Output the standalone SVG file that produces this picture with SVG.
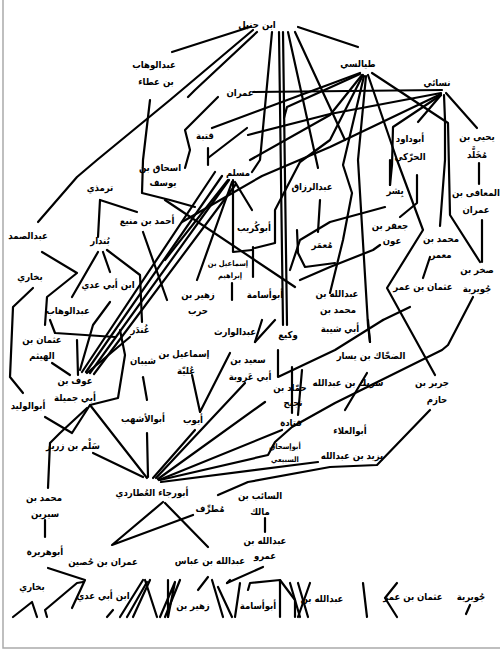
<svg xmlns="http://www.w3.org/2000/svg" width="500" height="652" viewBox="0 0 500 652">
<style>
text{font-family:"DejaVu Sans Condensed","DejaVu Sans",sans-serif;font-weight:bold;font-size:9.5px;fill:#000;text-anchor:middle}
.s{font-size:7.5px}
#connectors polyline{fill:none;stroke:#000;stroke-width:2.2;stroke-linecap:round;stroke-linejoin:round}
</style>
<rect width="500" height="652" fill="#fff"/>
<polyline points="3,0 3,648 500,648" fill="none" stroke="#aaa" stroke-width="1.5"/>
<g id="connectors">
<!-- Ibn Hanbal -->
<polyline points="250,27 172,52"/>
<polyline points="253,30 170,100 97,160 77,177 38,222"/>
<polyline points="257,32 195,90 188,97"/>
<polyline points="218,97 185,130 190,150 185,168"/>
<polyline points="272,32 260,160 252,172"/>
<polyline points="279,32 283,325"/>
<polyline points="283,32 287,325"/>
<polyline points="288,32 318,168"/>
<polyline points="295,32 345,140"/>
<polyline points="298,27 358,47"/>
<!-- Tayalisi -->
<polyline points="360,73 212,128"/>
<polyline points="360,74 287,107 284,118"/>
<polyline points="362,75 330,115 250,160"/>
<polyline points="363,75 330,140 300,162 275,210 275,243 255,248"/>
<polyline points="364,76 343,165 352,193 343,240 330,293"/>
<polyline points="366,76 358,160 368,325 370,342"/>
<polyline points="368,75 397,160 423,230 387,288 435,375"/>
<polyline points="372,73 448,123 450,215 480,262"/>
<!-- Nasai -->
<polyline points="442,90 253,92"/>
<polyline points="441,93 330,114 248,135"/>
<polyline points="441,94 330,147 262,176 182,222"/>
<polyline points="441,95 418,122"/>
<polyline points="441,95 393,127 392,165 390,185"/>
<polyline points="444,95 445,120 445,160 440,226"/>
<polyline points="446,93 477,128"/>
<polyline points="479,163 479,184"/>
<!-- upper middle -->
<polyline points="150,100 143,160 142,193 170,200 195,207"/>
<polyline points="165,200 295,287"/>
<polyline points="208,148 208,165"/>
<polyline points="247,128 208,158"/>
<polyline points="233,180 233,252 252,250"/>
<polyline points="235,182 252,210"/>
<polyline points="253,247 253,277"/>
<polyline points="232,283 232,300"/>
<polyline points="232,182 197,280"/>
<polyline points="228,180 165,260"/>
<polyline points="215,172 82,372"/>
<polyline points="222,176 86,372"/>
<polyline points="229,180 90,373"/>
<polyline points="236,184 94,374"/>
<polyline points="320,200 318,232"/>
<polyline points="390,160 390,185"/>
<polyline points="417,175 417,203 400,217"/>
<polyline points="385,207 330,222 300,240 290,270"/>
<polyline points="380,245 373,250 330,267 300,280"/>
<polyline points="297,230 298,253 305,267 335,263"/>
<polyline points="482,220 482,262"/>
<polyline points="430,257 423,278"/>
<!-- left middle -->
<polyline points="100,200 98,237"/>
<polyline points="100,200 137,212"/>
<polyline points="98,252 72,297"/>
<polyline points="103,252 110,272"/>
<polyline points="107,250 140,275 142,322"/>
<polyline points="143,232 167,300"/>
<polyline points="42,252 77,273 47,297 45,325"/>
<polyline points="33,288 13,307 10,377 23,393"/>
<polyline points="50,320 55,333 115,337"/>
<polyline points="110,302 93,325 80,370"/>
<polyline points="52,363 70,375"/>
<polyline points="77,340 78,375"/>
<polyline points="130,337 87,373"/>
<polyline points="143,377 147,400"/>
<polyline points="120,330 125,355 118,398 90,405 72,433 45,417"/>
<polyline points="87,408 60,433 50,443 48,488"/>
<!-- lower middle -->
<polyline points="255,342 262,320"/>
<polyline points="255,342 275,320"/>
<polyline points="192,375 200,412 230,353"/>
<polyline points="278,350 278,377 335,350 383,320"/>
<polyline points="383,320 410,307"/>
<polyline points="292,367 292,413"/>
<polyline points="302,370 298,415"/>
<polyline points="367,373 345,410"/>
<polyline points="368,320 370,342"/>
<polyline points="473,297 448,345 442,350 335,403 292,427 275,442 268,455 160,480"/>
<polyline points="430,410 377,465 330,467 248,482 218,495"/>
<!-- into Abu Raja -->
<polyline points="90,405 147,478"/>
<polyline points="93,453 143,477"/>
<polyline points="147,433 148,477"/>
<polyline points="195,430 153,478"/>
<polyline points="245,383 156,478"/>
<polyline points="265,402 158,479"/>
<polyline points="282,430 159,480"/>
<polyline points="318,462 161,482"/>
<!-- lower -->
<polyline points="163,502 112,545 193,515"/>
<polyline points="165,503 208,547"/>
<polyline points="265,518 265,532"/>
<polyline points="45,520 45,537"/>
<polyline points="263,567 227,583"/>
<!-- bottom strip -->
<polyline points="13,617 32,602 37,617"/>
<polyline points="48,568 85,580 72,608"/>
<polyline points="47,617 45,610 77,583 83,582"/>
<polyline points="107,617 113,610"/>
<polyline points="120,617 143,580"/>
<polyline points="127,617 147,582"/>
<polyline points="133,617 150,580"/>
<polyline points="145,580 157,617"/>
<polyline points="160,617 175,582 168,617"/>
<polyline points="165,617 180,580"/>
<polyline points="168,580 168,617"/>
<polyline points="198,590 208,577"/>
<polyline points="212,580 223,617"/>
<polyline points="218,587 232,617"/>
<polyline points="235,617 240,583"/>
<polyline points="227,583 230,580"/>
<polyline points="248,590 250,583 280,580 295,600 295,617"/>
<polyline points="280,580 280,617"/>
<polyline points="290,583 300,617"/>
<polyline points="298,583 308,617"/>
<polyline points="298,617 310,583"/>
<polyline points="363,583 367,617"/>
<polyline points="397,583 385,598 397,617"/>
<polyline points="470,605 466,614"/>
</g>
<g id="n1"><text x="257" y="28">ابن حنبل</text></g>
<g id="n2"><text x="154" y="68">عبدالوهاب</text><text x="156" y="85">بن عطاء</text></g>
<g id="n3"><text x="358" y="67">طيالسي</text></g>
<g id="n4"><text x="437" y="86">نسائي</text></g>
<g id="n5"><text x="240" y="96">عمران</text></g>
<g id="n6"><text x="477" y="140">يحيى بن</text><text x="477" y="158">مُخَلَّد</text></g>
<g id="n7"><text x="410" y="142">أبوداود</text><text x="410" y="160">الحرّكي</text></g>
<g id="n8"><text x="205" y="139">قتبة</text></g>
<g id="n9"><text x="160" y="171">اسحاق بن</text><text x="163" y="186">يوسف</text></g>
<g id="n10"><text x="100" y="191">ترمذي</text></g>
<g id="n11"><text x="238" y="176">مسلم</text></g>
<g id="n12"><text x="312" y="190">عبدالرزاق</text></g>
<g id="n13"><text x="395" y="194">بِشر</text></g>
<g id="n14"><text x="476" y="196">المعافى بن</text><text x="476" y="213">عمران</text></g>
<g id="n15"><text x="254" y="231">أبوكُريب</text></g>
<g id="n16"><text x="147" y="224">أحمد بن منيع</text></g>
<g id="n17"><text x="390" y="229">جعفر بن</text><text x="392" y="244">عون</text></g>
<g id="n18"><text x="322" y="248">مُعمَر</text></g>
<g id="n19"><text x="28" y="239">عبدالصمد</text></g>
<g id="n20"><text x="100" y="244">بُندار</text></g>
<g id="n21"><text x="441" y="242">محمد بن</text><text x="441" y="258">معمر</text></g>
<g id="n22"><text class="s" x="228" y="266">إسماعيل بن</text><text class="s" x="230" y="278">إبراهيم</text></g>
<g id="n23"><text x="477" y="273">صخر بن</text><text x="477" y="292">جُويرية</text></g>
<g id="n24"><text x="337" y="297">عبدالله بن</text><text x="338" y="313">محمد بن</text><text x="340" y="332">أبي شيبة</text></g>
<g id="n25"><text x="423" y="290">عثمان بن عمر</text></g>
<g id="n26"><text x="198" y="298">زهير بن</text><text x="198" y="314">حرب</text></g>
<g id="n27"><text x="265" y="298">أبوأسامة</text></g>
<g id="n28"><text x="30" y="280">بخاري</text></g>
<g id="n29"><text x="108" y="288">ابن أبي عدي</text></g>
<g id="n30"><text x="68" y="314">عبدالوهاب</text></g>
<g id="n31"><text x="42" y="343">عثمان بن</text><text x="42" y="359">الهيثم</text></g>
<g id="n32"><text x="140" y="333">غُندَر</text></g>
<g id="n33"><text x="235" y="335">عبدالوارث</text></g>
<g id="n34"><text x="288" y="338">وكيع</text></g>
<g id="n35"><text x="184" y="357">إسماعيل بن</text><text x="186" y="374">عُليّة</text></g>
<g id="n36"><text x="248" y="363">سعيد بن</text><text x="250" y="380">أبي عَروبة</text></g>
<g id="n37"><text x="143" y="364">شيبان</text></g>
<g id="n38"><text x="371" y="359">الضحّاك بن يسار</text></g>
<g id="n39"><text x="75" y="384">عوف بن</text><text x="75" y="401">أبي جميلة</text></g>
<g id="n40"><text x="290" y="391">حمّاد بن</text><text x="293" y="406">نجيح</text></g>
<g id="n41"><text x="348" y="386">شريك بن عبدالله</text></g>
<g id="n42"><text x="432" y="386">جرير بن</text><text x="437" y="403">حازم</text></g>
<g id="n43"><text x="28" y="409">أبوالوليد</text></g>
<g id="n44"><text x="193" y="423">أيوب</text></g>
<g id="n45"><text x="143" y="422">أبوالأشهب</text></g>
<g id="n46"><text x="291" y="426">قتادة</text></g>
<g id="n47"><text x="350" y="434">أبوالعلاء</text></g>
<g id="n48"><text x="73" y="449">سَلْم بن زرير</text></g>
<g id="n49"><text class="s" x="285" y="449">أبوإسحاق</text><text class="s" x="285" y="462">السبيعي</text></g>
<g id="n50"><text x="352" y="459">يزيد بن عبدالله</text></g>
<g id="n51"><text x="152" y="496">أبورجاء العُطاردي</text></g>
<g id="n52"><text x="260" y="499">السائب بن</text><text x="260" y="515">مالك</text></g>
<g id="n53"><text x="44" y="501">محمد بن</text><text x="45" y="517">سيرين</text></g>
<g id="n54"><text x="210" y="512">مُطرِّف</text></g>
<g id="n55"><text x="265" y="544">عبدالله بن</text><text x="265" y="559">عمرو</text></g>
<g id="n56"><text x="45" y="555">أبوهريرة</text></g>
<g id="n57"><text x="103" y="565">عمران بن حُصين</text></g>
<g id="n58"><text x="210" y="564">عبدالله بن عباس</text></g>
<g id="n59"><text x="32" y="590">بخاري</text></g>
<g id="n60"><text x="103" y="599">ابن أبي عدي</text></g>
<g id="n61"><text x="193" y="609">زهير بن</text></g>
<g id="n62"><text x="258" y="609">أبوأسامة</text></g>
<g id="n63"><text x="322" y="602">عبدالله بن</text></g>
<g id="n64"><text x="413" y="600">عثمان بن عمر</text></g>
<g id="n65"><text x="471" y="600">جُويرية</text></g>
</svg>
